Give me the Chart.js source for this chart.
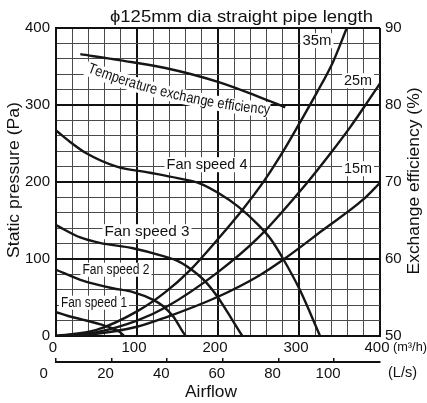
<!DOCTYPE html>
<html><head><meta charset="utf-8">
<script src="https://cdn.jsdelivr.net/npm/chart.js@4/dist/chart.umd.min.js"></script>
<style>html,body{margin:0;padding:0;background:#fff;}#wrap{width:427px;height:403px;}</style>
</head><body><div id="wrap"><canvas id="c" width="427" height="403"></canvas></div>
<script>
// ---- data (airflow in m3/h, static pressure in Pa, efficiency in %) ----
const fan1Q = [0, 15, 34, 55, 70, 79, 84];
const fan1P = [31, 26, 21, 15, 10, 5, 0];
const fan2Q = [0, 30, 46, 70, 95, 120, 132, 145, 155, 160];
const fan2P = [86, 73, 68, 62, 57, 47, 39, 25, 8, 0];
const fan3Q = [0, 30, 54, 95, 128, 153, 170, 185, 200, 217, 230];
const fan3P = [144, 128, 121, 114, 105, 96, 84, 70, 50, 22, 0];
const fan4Q = [0, 20, 38, 75, 116, 150, 178, 200, 225, 250, 265, 280, 301, 326];
const fan4P = [267, 250, 237, 220, 212, 205, 198, 186, 168, 144, 126, 101, 60, 0];
const pipe15Q = [0, 50, 100, 135, 200, 250, 283, 330, 379, 400];
const pipe15P = [0, 3, 12, 24, 51, 78, 101, 138, 177, 199];
const pipe25Q = [0, 50, 100, 135, 200, 250, 310, 338, 363, 384, 400];
const pipe25P = [0, 5, 20, 37, 83, 128, 199, 236, 271, 303, 328];
const pipe35Q = [0, 50, 100, 135, 165, 200, 231, 258, 280, 301, 322, 342, 359];
const pipe35P = [0, 8, 32, 57, 85, 126, 165, 203, 239, 277, 316, 356, 400];
const effQ = [30, 80, 135, 200, 252, 283];
const effE = [86.6, 85.8, 84.8, 83.0, 81.0, 79.7];

const titleText = 'ϕ125mm dia straight pipe length';
const yTitle = 'Static pressure (Pa)';
const y2Title = 'Exchange efficiency (%)';
const xTitle = 'Airflow';
const xUnit = '(m³/h)';
const lsUnit = '(L/s)';
const effLabel = 'Temperature exchange efficiency';
const curveLabels = [
  {text:'35m', x:317, y:41, w:29, size:15},
  {text:'25m', x:358, y:81, w:28, size:15},
  {text:'15m', x:358, y:169, w:28, size:15},
  {text:'Fan speed 4', x:207, y:165, w:81, size:15},
  {text:'Fan speed 3', x:147, y:232, w:85, size:15},
  {text:'Fan speed 2', x:116, y:270, w:67, size:14},
  {text:'Fan speed 1', x:94, y:303, w:66, size:14}
];

const FONT = "'Liberation Sans', Arial, Helvetica, sans-serif";
Chart.defaults.font.family = FONT;
Chart.defaults.color = '#111';

function pts(q, p){ return q.map((v,i)=>({x:v, y:p[i]})); }
const base = {borderColor:'#161616', borderWidth:2.4, pointRadius:0, fill:false, cubicInterpolationMode:'monotone'};

function drawFit(ctx, text, x, y, w, size, o){
  o = o || {};
  ctx.save();
  ctx.font = size + 'px ' + FONT;
  const nat = ctx.measureText(text).width;
  const sx = w ? w/nat : 1;
  ctx.translate(x, y);
  if (o.angle) ctx.rotate(o.angle);
  ctx.scale(sx, 1);
  const left = o.align === 'left' ? 0 : -nat/2;
  if (o.bg){
    const px = 2/sx;
    ctx.fillStyle = '#fff';
    ctx.fillRect(left - px, -size*0.52, nat + 2*px, size*1.0);
  }
  ctx.fillStyle = '#111';
  ctx.textBaseline = 'middle';
  ctx.textAlign = 'left';
  ctx.fillText(text, left, 0);
  ctx.restore();
}

function bez(t, P0, C, P2){
  const a=(1-t)*(1-t), b=2*t*(1-t), c=t*t;
  return [a*P0[0]+b*C[0]+c*P2[0], a*P0[1]+b*C[1]+c*P2[1]];
}
function drawCurved(ctx, text, P0, C, P2, size){
  const N = 300; const P=[]; const L=[0];
  for (let i=0;i<=N;i++){ P.push(bez(i/N,P0,C,P2)); if(i>0){const dx=P[i][0]-P[i-1][0], dy=P[i][1]-P[i-1][1]; L.push(L[i-1]+Math.hypot(dx,dy));} }
  const total = L[N];
  ctx.save();
  ctx.strokeStyle = '#fff'; ctx.lineWidth = 15; ctx.lineCap = 'butt';
  ctx.beginPath(); ctx.moveTo(P0[0]-2, P0[1]); ctx.quadraticCurveTo(C[0], C[1], P2[0]+2, P2[1]); ctx.stroke();
  ctx.font = size + 'px ' + FONT;
  const nat = ctx.measureText(text).width;
  const sx = total/nat;
  let acc = 0;
  for (const ch of text){
    const cw = ctx.measureText(ch).width;
    const mid = (acc + cw/2)*sx;
    let i = 1; while (i<N && L[i] < mid) i++;
    const p = P[i], q = P[i-1];
    const ang = Math.atan2(p[1]-q[1], p[0]-q[0]);
    ctx.save();
    ctx.translate(p[0], p[1]); ctx.rotate(ang); ctx.scale(sx,1);
    ctx.fillStyle = '#111'; ctx.textBaseline='middle'; ctx.textAlign='center';
    ctx.fillText(ch, 0, 0);
    ctx.restore();
    acc += cw;
  }
  ctx.restore();
}

const annot = {
  id:'annot',
  afterDatasetsDraw(chart){
    const ctx = chart.ctx;
    curveLabels.forEach(l => drawFit(ctx, l.text, l.x, l.y, l.w, l.size, {bg:true}));
    drawCurved(ctx, effLabel, [88,68], [177,102], [268,110], 15);
  },
  afterDraw(chart){
    const ctx = chart.ctx;
    drawFit(ctx, titleText, 110 + 263/2, 17, 263, 17);
    drawFit(ctx, yTitle, 14, 180, 156, 17, {angle:-Math.PI/2});
    drawFit(ctx, y2Title, 414, 181, 187, 17, {angle:-Math.PI/2});
    drawFit(ctx, xTitle, 211, 392, 52, 17);
    drawFit(ctx, xUnit, 393, 348, 34, 12, {align:'left'});
    drawFit(ctx, lsUnit, 388, 373, 29, 15, {align:'left'});
  }
};

const major = v => v % 100 === 0;
new Chart(document.getElementById('c'), {
  type:'line',
  data:{datasets:[
    Object.assign({data:pts(fan1Q,fan1P), yAxisID:'y', xAxisID:'x'}, base),
    Object.assign({data:pts(fan2Q,fan2P), yAxisID:'y', xAxisID:'x'}, base),
    Object.assign({data:pts(fan3Q,fan3P), yAxisID:'y', xAxisID:'x'}, base),
    Object.assign({data:pts(fan4Q,fan4P), yAxisID:'y', xAxisID:'x'}, base),
    Object.assign({data:pts(pipe15Q,pipe15P), yAxisID:'y', xAxisID:'x'}, base),
    Object.assign({data:pts(pipe25Q,pipe25P), yAxisID:'y', xAxisID:'x'}, base),
    Object.assign({data:pts(pipe35Q,pipe35P), yAxisID:'y', xAxisID:'x'}, base),
    Object.assign({data:pts(effQ,effE), yAxisID:'y2', xAxisID:'x'}, base)
  ]},
  options:{
    responsive:false, animation:false, devicePixelRatio:1,
    layout:{padding:{top:28, left:0, right:0, bottom:0}},
    plugins:{legend:{display:false}, tooltip:{enabled:false}, title:{display:false}},
    scales:{
      x:{type:'linear', position:'bottom', min:0, max:400, weight:0,
         afterFit:s=>{s.height=26;},
         ticks:{stepSize:20, autoSkip:false, maxRotation:0, padding:3, labelOffset:-3, font:{size:15}, color:'#111',
                callback:v=> major(v) ? String(v) : ''},
         grid:{drawTicks:false, color:c=> c.tick && major(c.tick.value) ? '#111' : '#4a4a4a',
               lineWidth:c=> c.tick && major(c.tick.value) ? 2 : 1},
         border:{display:true, color:'#111', width:2}},
      ls:{type:'linear', position:'bottom', axis:'x', min:0, max:116.5, weight:1,
          afterFit:s=>{s.height=41;},
          ticks:{stepSize:20, includeBounds:false, autoSkip:false, maxRotation:0, padding:7, labelOffset:-6, font:{size:15}, color:'#111',
                 callback:v=> v===0 ? '0   ' : String(v)},
          grid:{drawOnChartArea:false, drawTicks:true, tickLength:-4, color:'#111', lineWidth:1.5},
          border:{display:true, color:'#111', width:2}},
      y:{type:'linear', position:'left', min:0, max:400,
         afterFit:s=>{s.width=56;},
         ticks:{stepSize:20, autoSkip:false, padding:6, font:{size:15}, color:'#111',
                callback:v=> major(v) ? String(v) : ''},
         grid:{drawTicks:false, color:c=> c.tick && major(c.tick.value) ? '#111' : '#4a4a4a',
               lineWidth:c=> c.tick && major(c.tick.value) ? 2 : 1},
         border:{display:true, color:'#111', width:2}},
      y2:{type:'linear', position:'right', min:50, max:90,
          afterFit:s=>{s.width=47;},
          ticks:{stepSize:10, padding:5, font:{size:15}, color:'#111'},
          grid:{drawOnChartArea:false, drawTicks:false},
          border:{display:false}}
    }
  },
  plugins:[annot]
});
</script></body></html>
